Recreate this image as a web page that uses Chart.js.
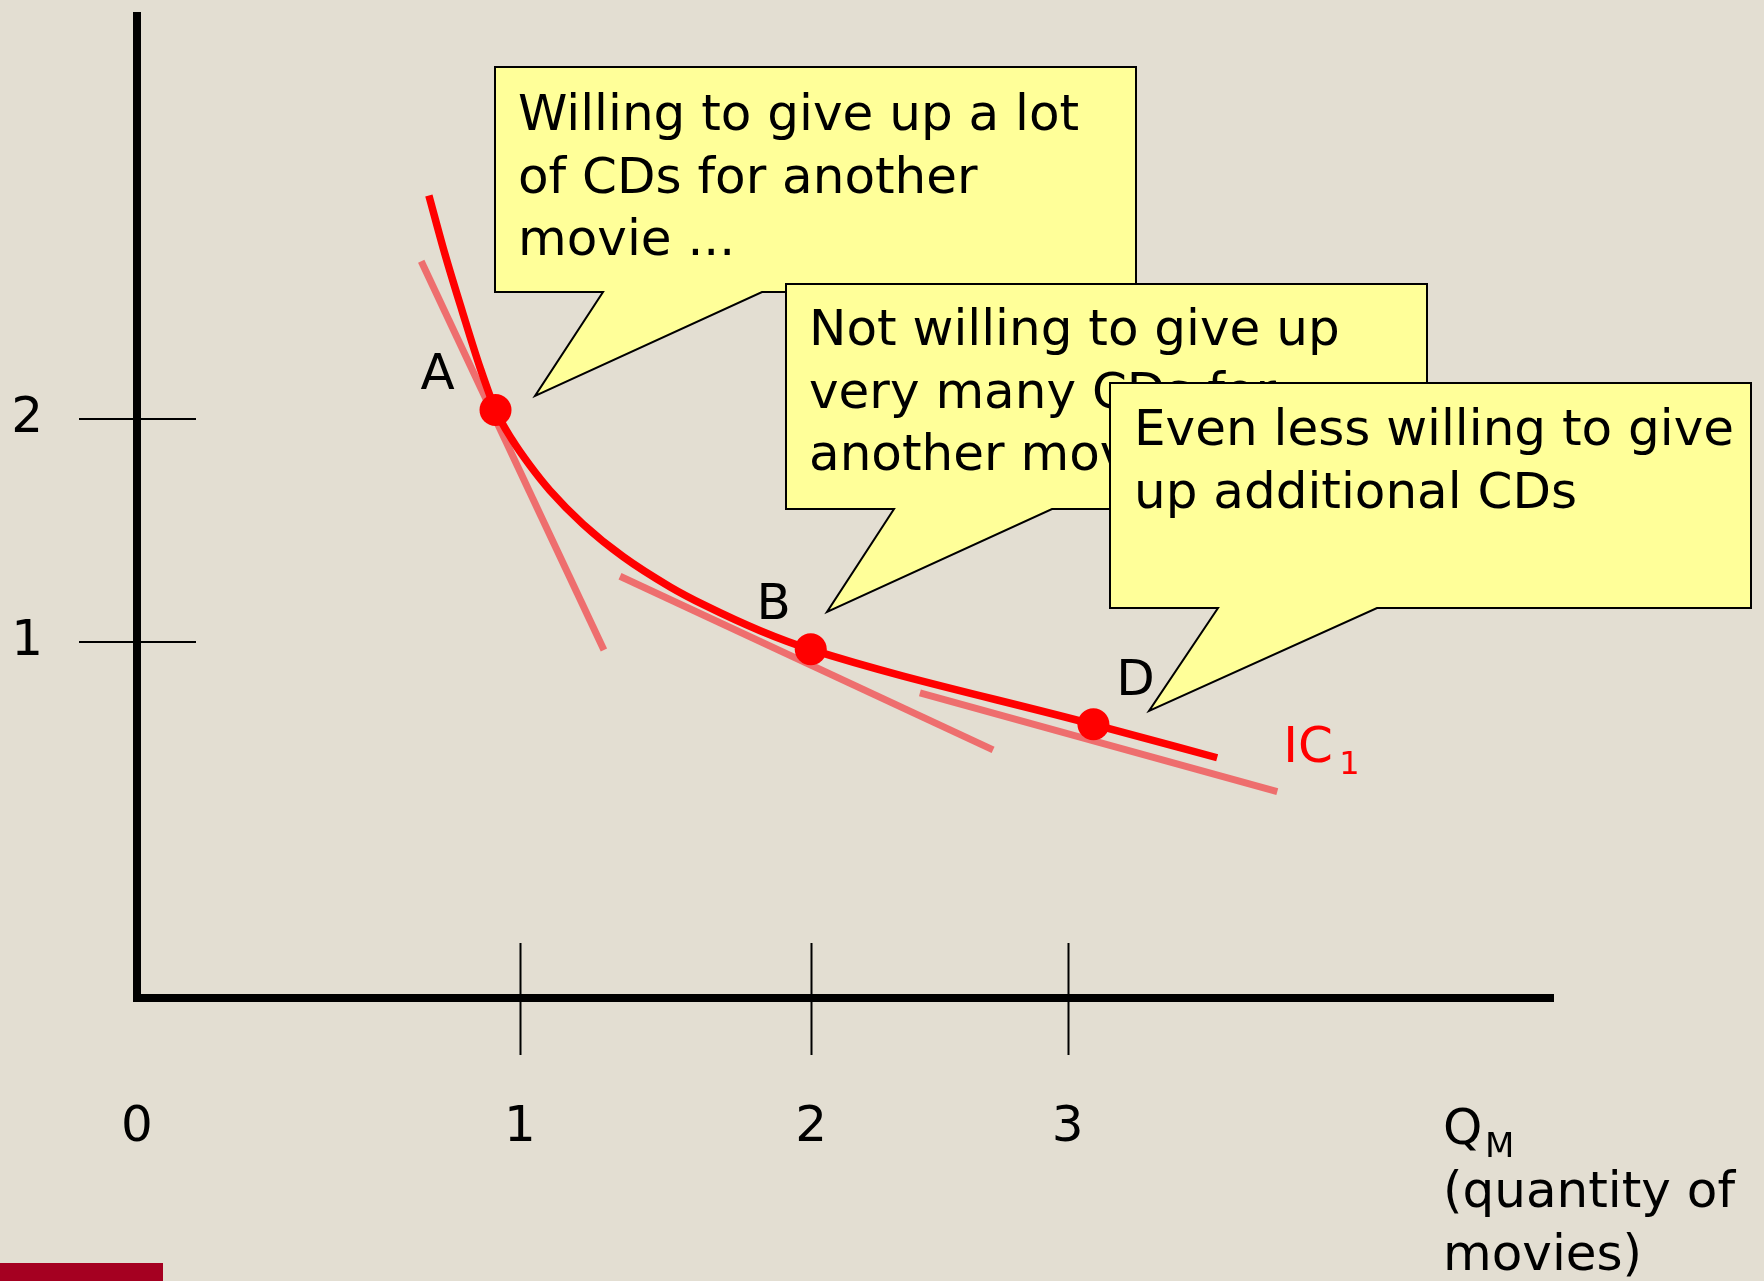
<!DOCTYPE html>
<html>
<head>
<meta charset="utf-8">
<title>IC1 - willingness to give up CDs</title>
<script src="https://cdn.jsdelivr.net/npm/chart.js@4.4.1/dist/chart.umd.min.js"></script>
<style>
  html, body { margin: 0; padding: 0; background: #E3DED2; }
  #wrap { width: 1764px; height: 1281px; }
</style>
</head>
<body>
<div id="wrap"><canvas id="icChart" width="1764" height="1281"></canvas></div>
<script>
const getEl = (id) => document.getElementById(id);

// axis ticks (the drawing is schematic, so tick spacing is uneven)
const xTickPos = [0, 1, 1.76, 2.43];
const xTickLabels = ['0', '1', '2', '3'];
const yTickPos = [1, 1.627];
const yTickLabels = ['1', '2'];

// indifference curve IC1
const icX = [0.762, 0.804, 0.849, 0.896, 0.937, 0.979, 1.026, 1.078, 1.164, 1.269, 1.392, 1.483, 1.627, 1.757, 2.499, 2.820];
const icY = [2.255, 2.090, 1.930, 1.770, 1.650, 1.569, 1.496, 1.426, 1.332, 1.240, 1.155, 1.103, 1.032, 0.980, 0.768, 0.675];

// marked points on the curve
const pointNames = ['A', 'B', 'D'];
const pointX = [0.936, 1.759, 2.497];
const pointY = [1.652, 0.980, 0.769];

// tangent segments (start, end)
const tanAX = [0.742, 1.219], tanAY = [2.070, 0.978];
const tanBX = [1.261, 2.235], tanBY = [1.185, 0.697];
const tanDX = [2.044, 2.977], tanDY = [0.857, 0.580];

// callout texts
const note1 = ['Willing to give up a lot', 'of CDs for another', 'movie ...'];
const note2 = ['Not willing to give up', 'very many CDs for', 'another movie'];
const note3 = ['Even less willing to give', 'up additional CDs'];

const FONT = '"DejaVu Sans", sans-serif';
const toPts = (xs, ys) => xs.map((x, i) => ({ x, y: ys[i] }));

// callout boxes: box edges, tail base on bottom edge, tail tip, first baseline
const notes = [
  { lines: note1, l: 495, t: 67, r: 1136, b: 292, base: [603, 762], tip: [535, 396], tx: 518, ty: 130 },
  { lines: note2, l: 786, t: 284, r: 1427, b: 509, base: [894, 1052], tip: [827, 612], tx: 809, ty: 345 },
  { lines: note3, l: 1110, t: 383, r: 1751, b: 608, base: [1218, 1377], tip: [1149, 711], tx: 1134, ty: 445 }
];
// label offsets from each point (centre x, baseline y)
const labelOffset = [[-58, -21], [-37, -30], [42, -29]];

const backdrop = {
  id: 'backdrop',
  beforeDraw(chart) {
    const c = chart.ctx;
    c.save();
    c.fillStyle = '#E3DED2';
    c.fillRect(0, 0, chart.width, chart.height);
    c.fillStyle = '#A50021';
    c.fillRect(0, 1263, 163, 18);
    c.restore();
  }
};

// tick marks that cross the axes
const crossTicks = {
  id: 'crossTicks',
  beforeDatasetsDraw(chart) {
    const { ctx, scales: { x, y } } = chart;
    ctx.save();
    ctx.strokeStyle = '#000';
    ctx.lineWidth = 2;
    ctx.beginPath();
    xTickPos.forEach(v => {
      if (!v) return;
      const px = Math.round(x.getPixelForValue(v)) + 0.5;
      ctx.moveTo(px, y.bottom - 55);
      ctx.lineTo(px, y.bottom + 57);
    });
    yTickPos.forEach(v => {
      const py = Math.round(y.getPixelForValue(v));
      ctx.moveTo(x.left - 58, py);
      ctx.lineTo(x.left + 59, py);
    });
    ctx.stroke();
    ctx.restore();
  }
};

const annotations = {
  id: 'annotations',
  afterDatasetsDraw(chart) {
    const { ctx, scales: { x, y } } = chart;
    ctx.save();
    ctx.textAlign = 'center';
    ctx.textBaseline = 'alphabetic';
    ctx.font = '50px ' + FONT;
    ctx.fillStyle = '#000';
    pointNames.forEach((n, i) => {
      const px = x.getPixelForValue(pointX[i]), py = y.getPixelForValue(pointY[i]);
      ctx.fillText(n, px + labelOffset[i][0], py + labelOffset[i][1]);
    });

    // IC1 label next to the end of the curve
    const ex = x.getPixelForValue(icX[icX.length - 1]), ey = y.getPixelForValue(icY[icY.length - 1]);
    ctx.textAlign = 'left';
    ctx.fillStyle = '#FF0000';
    ctx.fillText('IC', ex + 66, ey + 4);
    ctx.font = '32px ' + FONT;
    ctx.fillText('1', ex + 122, ey + 16);

    // axis title
    ctx.fillStyle = '#000';
    ctx.font = '50px ' + FONT;
    ctx.fillText('Q', 1443, 1144);
    ctx.font = '34px ' + FONT;
    ctx.fillText('M', 1485, 1157);
    ctx.font = '50px ' + FONT;
    ctx.fillText('(quantity of', 1443, 1207);
    ctx.fillText('movies)', 1443, 1270);

    // speech bubbles
    notes.forEach(n => {
      ctx.beginPath();
      ctx.moveTo(n.l, n.t);
      ctx.lineTo(n.r, n.t);
      ctx.lineTo(n.r, n.b);
      ctx.lineTo(n.base[1], n.b);
      ctx.lineTo(n.tip[0], n.tip[1]);
      ctx.lineTo(n.base[0], n.b);
      ctx.lineTo(n.l, n.b);
      ctx.closePath();
      ctx.fillStyle = '#FFFF99';
      ctx.fill();
      ctx.strokeStyle = '#000';
      ctx.lineWidth = 2;
      ctx.lineJoin = 'miter';
      ctx.stroke();
      ctx.fillStyle = '#000';
      ctx.font = '50px ' + FONT;
      n.lines.forEach((t, i) => ctx.fillText(t, n.tx, n.ty + i * 62.5));
    });
    ctx.restore();
  }
};

const segment = (xs, ys) => ({
  data: toPts(xs, ys),
  showLine: true,
  borderColor: '#EE6E6E',
  borderWidth: 7,
  pointRadius: 0,
  borderCapStyle: 'butt'
});

const tickFont = { family: FONT, size: 50 };

new Chart(getEl('icChart'), {
  type: 'scatter',
  data: {
    datasets: [
      { label: 'points', data: toPts(pointX, pointY), pointRadius: 16, backgroundColor: '#FF0000', borderWidth: 0 },
      { label: 'IC1', data: toPts(icX, icY), showLine: true, borderColor: '#FF0000', borderWidth: 7.5, pointRadius: 0, cubicInterpolationMode: 'monotone', borderCapStyle: 'butt' },
      segment(tanAX, tanAY),
      segment(tanBX, tanBY),
      segment(tanDX, tanDY)
    ]
  },
  options: {
    responsive: false,
    devicePixelRatio: 1,
    animation: false,
    events: [],
    layout: { padding: { top: 13, right: 214, left: 0, bottom: 0 } },
    plugins: { legend: { display: false }, tooltip: { enabled: false } },
    scales: {
      x: {
        type: 'linear', min: 0, max: 3.689,
        grid: { display: false, drawTicks: false, lineWidth: 8 },
        border: { display: true, color: '#000', width: 8 },
        afterBuildTicks: (s) => { s.ticks = xTickPos.map(v => ({ value: v })); },
        afterFit: (s) => { s.height = 283; s.paddingLeft = 0; s.paddingRight = 0; },
        ticks: { padding: 100, color: '#000', font: tickFont, maxRotation: 0, autoSkip: false, callback: (v, i) => xTickLabels[i] }
      },
      y: {
        type: 'linear', min: 0, max: 2.759,
        grid: { display: false, drawTicks: false, lineWidth: 8 },
        border: { display: true, color: '#000', width: 8 },
        afterBuildTicks: (s) => { s.ticks = yTickPos.map(v => ({ value: v })); },
        afterFit: (s) => { s.width = 137; s.paddingTop = 0; s.paddingBottom = 0; },
        ticks: { padding: 94, color: '#000', font: tickFont, autoSkip: false, callback: (v, i) => yTickLabels[i] }
      }
    }
  },
  plugins: [backdrop, crossTicks, annotations]
});
</script>
</body>
